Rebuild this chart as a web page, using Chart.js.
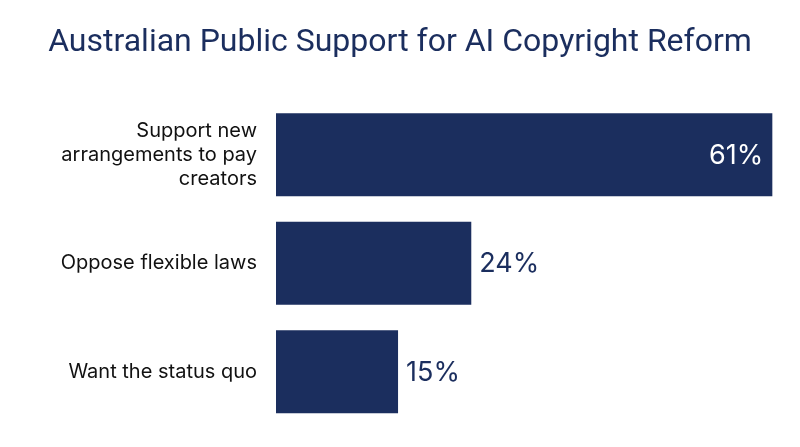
<!DOCTYPE html>
<html>
<head>
<meta charset="utf-8">
<script src="https://cdn.jsdelivr.net/npm/chart.js@4"></script>
<style>
  html, body { margin:0; padding:0; background:#fff; overflow:hidden; }
  #chart { display:block; }
</style>
</head>
<body>
<canvas id="chart" width="800" height="447"></canvas>
<script>
/* ════════════════════════════
   DATA
════════════════════════════ */
const CATEGORIES = [
  ['Support new', 'arrangements to pay', 'creators'],
  'Oppose flexible laws',
  'Want the status quo',
];
const VALUES = [61, 24, 15];
const X_MAX = 64.4;   // axis runs a little past the longest bar

const NAVY = '#1B2E5E';
const FONT = 'Inter, "Noto Sans", sans-serif';

/* ════════════════════════════
   VALUE LABELS
════════════════════════════ */
const valueLabels = {
  id: 'valueLabels',
  afterDatasetsDraw(chart) {
    const { ctx } = chart;
    const meta = chart.getDatasetMeta(0);
    ctx.save();
    ctx.font = '27px ' + FONT;
    ctx.textBaseline = 'middle';
    meta.data.forEach((bar, i) => {
      const txt = VALUES[i] + '%';
      // only the long bar carries its label inside
      if (bar.x - bar.base > 300) {
        ctx.fillStyle = '#fff';
        ctx.textAlign = 'right';
        ctx.fillText(txt, bar.x - 9, bar.y + 1);
      } else {
        ctx.fillStyle = NAVY;
        ctx.textAlign = 'left';
        ctx.fillText(txt, bar.x + 8, bar.y + 1);
      }
    });
    ctx.restore();
  }
};

/* ════════════════════════════
   CHART
════════════════════════════ */
new Chart(document.getElementById('chart'), {
  type: 'bar',
  data: {
    labels: CATEGORIES,
    datasets: [{
      data: VALUES,
      backgroundColor: NAVY,
      borderWidth: 0,
      categoryPercentage: 1,
      barPercentage: 0.765,
    }]
  },
  options: {
    indexAxis: 'y',
    responsive: false,
    animation: false,
    layout: { padding: { left: 0, right: 0, top: 0, bottom: 21 } },
    plugins: {
      legend: { display: false },
      tooltip: { enabled: false },
      title: {
        display: true,
        text: 'Australian Public Support for AI Copyright Reform',
        color: NAVY,
        font: { family: 'Roboto, ' + FONT, size: 32, weight: 'normal', lineHeight: 1.2 },
        padding: { top: 24, bottom: 38 },
      }
    },
    scales: {
      x: { display: false, min: 0, max: X_MAX },
      y: {
        grid: { display: false, drawTicks: false },
        border: { display: false },
        ticks: { color: '#111', padding: 19, font: { family: FONT, size: 20, lineHeight: 1.2 } },
        afterFit(scale) {
          scale.width = 276;
          // tall first label should not squeeze the plot area
          scale.paddingTop = 0;
          scale.paddingBottom = 0;
        }
      }
    }
  },
  plugins: [valueLabels]
});
</script>
</body>
</html>
